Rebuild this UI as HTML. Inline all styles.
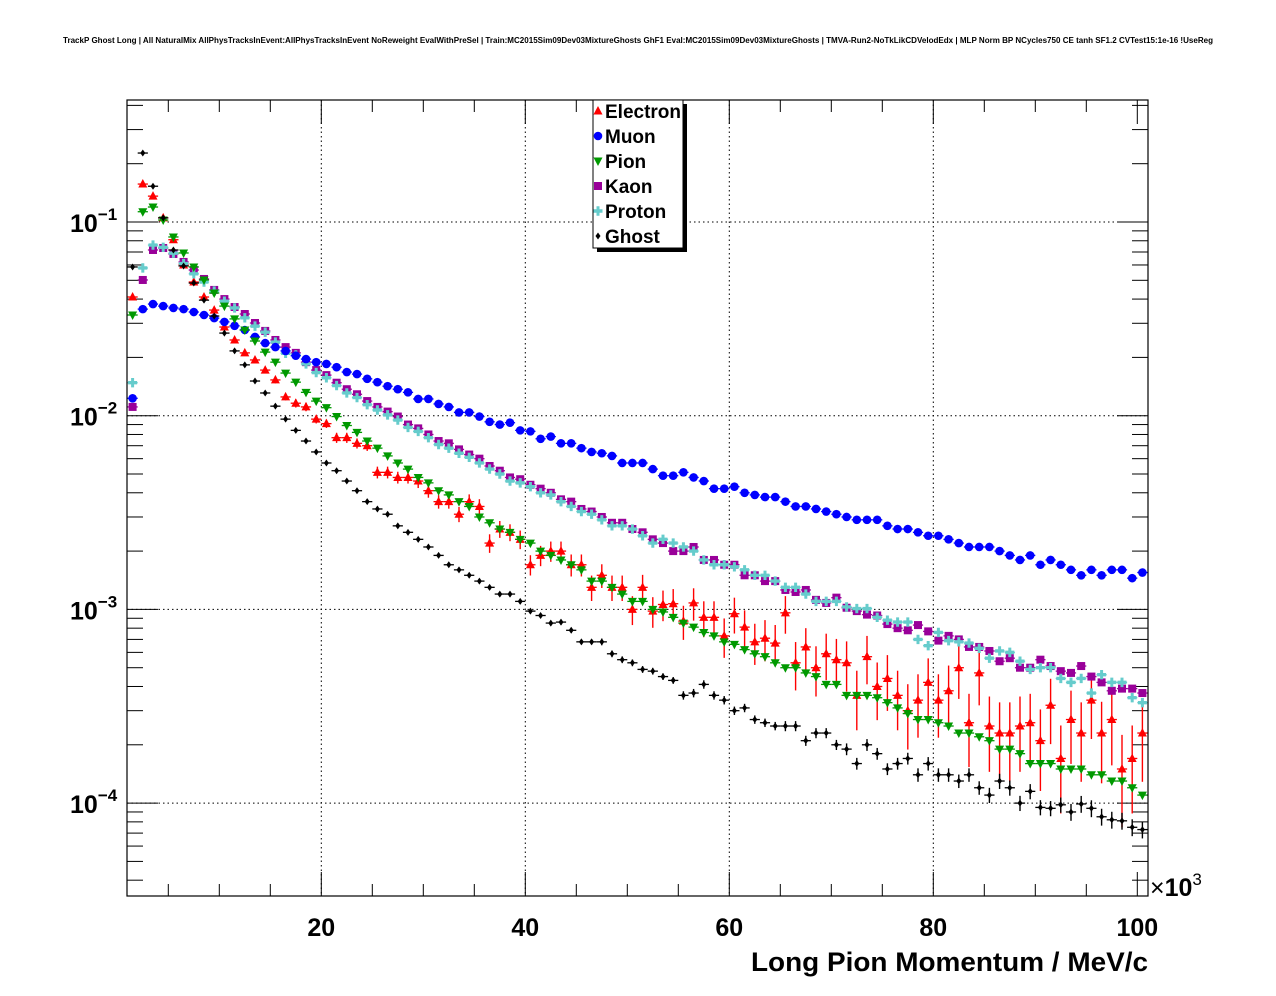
<!DOCTYPE html>
<html>
<head>
<meta charset="utf-8">
<style>
html,body{margin:0;padding:0;background:#fff;}
svg{display:block;font-family:"Liberation Sans",sans-serif;}
</style>
</head>
<body>
<svg id="chart" width="1276" height="996" viewBox="0 0 1276 996" xmlns="http://www.w3.org/2000/svg">
<rect x="0" y="0" width="1276" height="996" fill="#fff"/>
<text x="63" y="43" font-size="8" font-weight="bold" textLength="1150" lengthAdjust="spacingAndGlyphs">TrackP Ghost Long | All NaturalMix AllPhysTracksInEvent:AllPhysTracksInEvent NoReweight EvalWithPreSel | Train:MC2015Sim09Dev03MixtureGhosts GhF1 Eval:MC2015Sim09Dev03MixtureGhosts | TMVA-Run2-NoTkLikCDVelodEdx | MLP Norm BP NCycles750 CE tanh SF1.2 CVTest15:1e-16 !UseReg</text>
<g id="grid"></g>
<g id="axes"></g>
<defs><clipPath id="clip"><rect x="127" y="100" width="1021" height="796"/></clipPath></defs>
<g id="series" clip-path="url(#clip)"></g>
<rect x="127" y="100" width="1021" height="796" fill="none" stroke="#000" stroke-width="1.2"/>
<g id="legend"></g>
<text x="751" y="971" font-size="27" font-weight="bold" textLength="397" lengthAdjust="spacingAndGlyphs">Long Pion Momentum / MeV/c</text>
<text x="1150" y="896" font-size="25">×<tspan font-weight="bold">10</tspan><tspan font-size="17" dy="-11">3</tspan></text>
</svg>
<script>
const xTicks = [20, 40, 60, 80, 100];
const yDecades = [-1, -2, -3, -4];
const seriesNames = ["Electron", "Muon", "Pion", "Kaon", "Proton", "Ghost"];

const electron = [0.041,0.157,0.136,0.105,0.081,0.060,0.049,0.041,0.0351,0.0287,
0.0246,0.0211,0.0194,0.0172,0.0153,0.0125,0.0116,0.0111,0.0096,0.0091,
0.0077,0.0077,0.0072,0.0070,0.0051,0.0051,0.0048,0.0048,0.0046,0.0041,
0.0036,0.0036,0.0031,0.0036,0.0034,0.0022,0.0026,0.0025,0.0023,0.0017,
0.0019,0.0020,0.0020,0.0017,0.0017,0.0013,0.0015,0.0013,0.0013,0.0010,
0.0013,0.00098,0.00106,0.00107,0.00087,0.00108,0.00091,0.00091,0.00073,0.00095,
0.00081,0.00068,0.00071,0.00067,0.00096,0.00053,0.00064,0.00050,0.00059,0.00055,
0.00053,0.00036,0.00057,0.00040,0.00044,0.00036,0.00030,0.00034,0.00042,0.00034,
0.00038,0.00050,0.00026,0.00047,0.00025,0.00023,0.00023,0.00025,0.00026,0.00021,
0.00032,0.00017,0.00027,0.00023,0.00034,0.00023,0.00027,0.00015,0.00017,0.00023];
const electronErr = [0.03,0.02,0.02,0.02,0.02,0.03,0.03,0.03,0.03,0.03,
0.03,0.03,0.04,0.04,0.04,0.04,0.05,0.05,0.05,0.05,
0.06,0.06,0.06,0.06,0.07,0.07,0.07,0.07,0.08,0.08,
0.08,0.08,0.09,0.09,0.09,0.11,0.1,0.1,0.11,0.12,
0.12,0.12,0.12,0.13,0.13,0.15,0.14,0.15,0.15,0.17,
0.16,0.18,0.18,0.19,0.2,0.19,0.21,0.21,0.23,0.21,
0.22,0.24,0.24,0.24,0.22,0.28,0.25,0.29,0.27,0.28,
0.29,0.34,0.28,0.33,0.32,0.34,0.37,0.36,0.33,0.36,
0.35,0.31,0.41,0.32,0.42,0.44,0.44,0.42,0.41,0.45,
0.37,0.48,0.41,0.44,0.37,0.45,0.42,0.5,0.48,0.44];
const muon = [0.0123,0.0355,0.0377,0.0368,0.036,0.0355,0.0343,0.0331,0.0319,0.0305,
0.0291,0.0277,0.0255,0.0237,0.0226,0.0216,0.0204,0.0196,0.0189,0.0185,
0.0178,0.0168,0.0164,0.0155,0.0149,0.0142,0.0137,0.0132,0.0122,0.0122,
0.0115,0.0111,0.0104,0.0104,0.0099,0.0093,0.0090,0.0092,0.0084,0.0083,
0.0076,0.0078,0.0072,0.0072,0.0068,0.0065,0.0064,0.0062,0.0057,0.0057,
0.0057,0.0053,0.0049,0.0049,0.0051,0.0048,0.0046,0.0042,0.0042,0.0043,
0.0040,0.0039,0.0038,0.0038,0.0036,0.0034,0.0034,0.0033,0.0032,0.0031,
0.0030,0.0029,0.0029,0.0029,0.0027,0.0026,0.0026,0.0025,0.0024,0.0024,
0.0023,0.0022,0.0021,0.0021,0.0021,0.0020,0.0019,0.0018,0.0019,0.0017,
0.0018,0.0017,0.0016,0.0015,0.0016,0.0015,0.0016,0.0016,0.00145,0.00155];
const pion = [0.0331,0.113,0.1195,0.1024,0.0837,0.0692,0.0586,0.0502,0.0430,0.0368,
0.0316,0.0277,0.0243,0.0213,0.0189,0.0166,0.0149,0.0132,0.0119,0.0110,
0.0099,0.0089,0.0082,0.0074,0.0068,0.0062,0.0057,0.0053,0.0048,0.0045,
0.0041,0.0039,0.0036,0.0034,0.0030,0.0028,0.0026,0.0025,0.0023,0.0022,
0.0020,0.0019,0.0018,0.0017,0.0016,0.0014,0.0014,0.0013,0.0012,0.0011,
0.0011,0.0010,0.00097,0.00091,0.00085,0.00081,0.00076,0.00073,0.00068,0.00066,
0.00062,0.00059,0.00057,0.00053,0.00050,0.00050,0.00047,0.00045,0.00041,0.00041,
0.00036,0.00036,0.00036,0.00035,0.00033,0.00031,0.00029,0.00027,0.00027,0.00026,
0.00025,0.00023,0.00023,0.00022,0.00021,0.00019,0.00019,0.00018,0.00016,0.00016,
0.00016,0.00015,0.00015,0.00015,0.00014,0.00014,0.00013,0.00013,0.00012,0.00011];
const kaon = [0.0111,0.0502,0.0717,0.0734,0.0684,0.0622,0.0565,0.0508,0.0446,0.0400,
0.0364,0.0335,0.0301,0.0274,0.0246,0.0226,0.0211,0.0189,0.0172,0.0162,
0.0148,0.0137,0.0129,0.0119,0.0111,0.0105,0.0099,0.0090,0.0086,0.0080,
0.0074,0.0072,0.0067,0.0063,0.0060,0.0055,0.0052,0.0048,0.0047,0.0044,
0.0042,0.0040,0.0037,0.0036,0.0033,0.0032,0.0030,0.0028,0.0028,0.0026,
0.0025,0.0023,0.0022,0.0020,0.0020,0.0021,0.0018,0.0018,0.0017,0.0017,
0.0015,0.0015,0.0014,0.0014,0.00126,0.00123,0.00126,0.00112,0.00108,0.00115,
0.00102,0.00098,0.00094,0.00093,0.00084,0.00080,0.00078,0.00083,0.00077,0.00069,
0.00073,0.00070,0.00064,0.00064,0.00061,0.00054,0.00056,0.00050,0.00050,0.00055,
0.00051,0.00048,0.00047,0.00051,0.00045,0.00042,0.00038,0.00039,0.00039,0.00037];
const proton = [0.0148,0.0579,0.076,0.074,0.069,0.061,0.054,0.049,0.044,0.039,
0.036,0.032,0.029,0.027,0.024,0.021,0.0206,0.0185,0.0167,0.0157,
0.0143,0.0131,0.0124,0.0114,0.0107,0.0101,0.0095,0.0087,0.0083,0.0077,
0.0071,0.0068,0.0064,0.0061,0.0057,0.0053,0.0050,0.0046,0.0045,0.0043,
0.0040,0.0039,0.0036,0.0034,0.0032,0.0031,0.0029,0.0027,0.0027,0.0026,
0.0024,0.0022,0.0023,0.0022,0.0021,0.0020,0.0018,0.0017,0.0017,0.00166,
0.0016,0.0015,0.0015,0.0014,0.0013,0.0013,0.0012,0.0011,0.0011,0.0011,
0.00103,0.00101,0.00101,0.00091,0.00088,0.00086,0.00086,0.00070,0.00065,0.00076,
0.00069,0.00068,0.00067,0.00063,0.00056,0.00061,0.00060,0.00054,0.00049,0.00050,
0.00050,0.00044,0.00042,0.00044,0.00037,0.00046,0.00042,0.00042,0.00035,0.00033];
const ghost = [0.0586,0.227,0.153,0.105,0.0717,0.0593,0.0484,0.0395,0.0327,0.0267,
0.0216,0.0183,0.0151,0.0131,0.0112,0.0096,0.0084,0.0074,0.0065,0.0057,
0.0052,0.0046,0.0041,0.0036,0.0033,0.0031,0.0027,0.0025,0.0023,0.0021,
0.0019,0.0017,0.0016,0.0015,0.0014,0.0013,0.0012,0.0012,0.0011,0.00098,
0.00093,0.00085,0.00086,0.00078,0.00068,0.00068,0.00068,0.00059,0.00055,0.00053,
0.00049,0.00048,0.00045,0.00043,0.00036,0.00037,0.00041,0.00036,0.00034,0.00030,
0.00031,0.00027,0.00026,0.00025,0.00025,0.00025,0.00021,0.00023,0.00023,0.00020,
0.00019,0.00016,0.00020,0.00018,0.00015,0.00016,0.00017,0.00014,0.00016,0.00014,
0.00014,0.00013,0.00014,0.00012,0.00011,0.00013,0.00012,0.00010,0.000115,0.000095,
0.000094,0.000098,0.000090,0.000099,0.000094,0.000085,0.000082,0.000081,0.000075,0.000073];
const ghostErr = [0.01,0.01,0.01,0.01,0.01,0.01,0.01,0.01,0.01,0.01,
0.01,0.01,0.01,0.01,0.01,0.01,0.01,0.01,0.01,0.01,
0.02,0.02,0.02,0.02,0.02,0.02,0.02,0.02,0.02,0.02,
0.02,0.02,0.02,0.03,0.03,0.03,0.03,0.03,0.03,0.03,
0.03,0.03,0.03,0.03,0.03,0.03,0.04,0.04,0.04,0.04,
0.04,0.04,0.04,0.04,0.05,0.05,0.05,0.05,0.05,0.05,
0.05,0.05,0.05,0.05,0.06,0.06,0.06,0.06,0.06,0.06,
0.07,0.07,0.07,0.07,0.07,0.07,0.07,0.08,0.08,0.08,
0.08,0.08,0.08,0.08,0.09,0.09,0.09,0.09,0.09,0.09,
0.09,0.09,0.1,0.1,0.1,0.1,0.1,0.1,0.1,0.1];

const NS = "http://www.w3.org/2000/svg";
const X0 = 117.3, XS = 10.2, YD = 222, YS = 193.7;
function xPix(v){ return X0 + XS * v; }
function yPix(v){ return YD - (Math.log10(v) + 1) * YS; }
function mk(tag, attrs, parent){
  const e = document.createElementNS(NS, tag);
  for (const k in attrs) e.setAttribute(k, attrs[k]);
  parent.appendChild(e);
  return e;
}
const grid = document.getElementById('grid');
const axes = document.getElementById('axes');
const layer = document.getElementById('series');
const legend = document.getElementById('legend');

xTicks.forEach(t => {
  if (t >= 100) return;
  const l = mk('line', {x1:xPix(t), x2:xPix(t), y1:100, y2:896, stroke:'#000', 'stroke-width':1, 'stroke-dasharray':'1.5 3'}, grid);
  
  
});
yDecades.forEach(d => {
  const y = yPix(Math.pow(10, d));
  const l = mk('line', {x1:127, x2:1148, y1:y, y2:y, stroke:'#000', 'stroke-width':1, 'stroke-dasharray':'1.5 3'}, grid);
  
  
});

for (let t = 5; t <= 100; t += 5) {
  const x = xPix(t);
  const len = (t % 20 === 0) ? 24 : 12;
  const a = mk('line', {x1:x, x2:x, y1:896, y2:896 - len, stroke:'#000', 'stroke-width':1}, axes);
  
  
  const b = mk('line', {x1:x, x2:x, y1:100, y2:100 + len, stroke:'#000', 'stroke-width':1}, axes);
  
  
}
xTicks.forEach(t => {
  const tx = mk('text', {x:xPix(t), y:936, 'font-size':25, 'font-weight':'bold', 'text-anchor':'middle'}, axes);
  
  
  tx.textContent = String(t);
});

for (let d = -5; d <= 0; d++) {
  for (let m = 1; m <= 9; m++) {
    const v = m * Math.pow(10, d);
    const y = yPix(v);
    if (y < 100 || y > 896) continue;
    const len = (m === 1) ? 31 : 16;
    const a = mk('line', {x1:127, x2:127 + len, y1:y, y2:y, stroke:'#000', 'stroke-width':1}, axes);
    
    
    const b = mk('line', {x1:1148, x2:1148 - len, y1:y, y2:y, stroke:'#000', 'stroke-width':1}, axes);
    
    
  }
}
yDecades.forEach(d => {
  const y = yPix(Math.pow(10, d));
  const tx = mk('text', {x:70, y:y + 10, 'font-size':25, 'font-weight':'bold'}, axes);
  
  
  tx.textContent = '10';
  const sup = mk('tspan', {'font-size':17, dy:-12}, tx);
  sup.textContent = '\u2212' + String(-d);
});

function marker(shape, color, cx, cy, parent){
  let e;
  if (shape === 'tri-up') e = mk('polygon', {points:`${cx},${cy-5} ${cx-4.5},${cy+3.5} ${cx+4.5},${cy+3.5}`, fill:color}, parent);
  else if (shape === 'tri-down') e = mk('polygon', {points:`${cx},${cy+5} ${cx-4.5},${cy-3.5} ${cx+4.5},${cy-3.5}`, fill:color}, parent);
  else if (shape === 'circle') e = mk('circle', {cx:cx, cy:cy, r:4.3, fill:color}, parent);
  else if (shape === 'square') e = mk('rect', {x:cx-4, y:cy-4, width:8, height:8, fill:color}, parent);
  else if (shape === 'cross') e = mk('path', {d:`M${cx-4.5},${cy-1.7}h3v-3h3v3h3v3.4h-3v3h-3v-3h-3z`, fill:color}, parent);
  else e = mk('polygon', {points:`${cx},${cy-3.5} ${cx-2.5},${cy} ${cx},${cy+3.5} ${cx+2.5},${cy}`, fill:color}, parent);
  return e;
}
const seriesDefs = [
  {name:'electron', values:electron, err:electronErr, color:'#ff0000', shape:'tri-up'},
  {name:'kaon', values:kaon, err:null, color:'#990099', shape:'square'},
  {name:'proton', values:proton, err:null, color:'#66cccc', shape:'cross'},
  {name:'muon', values:muon, err:null, color:'#0000ff', shape:'circle'},
  {name:'pion', values:pion, err:null, color:'#009900', shape:'tri-down'},
  {name:'ghost', values:ghost, err:ghostErr, color:'#000000', shape:'diamond'}
];
seriesDefs.forEach(s => {
  const g = mk('g', {}, layer);
  
  
  s.values.forEach((v, k) => {
    const xc = k + 1.5;
    const cx = xPix(xc), cy = yPix(v);
    const h = mk('line', {x1:xPix(xc - 0.5), x2:xPix(xc + 0.5), y1:cy, y2:cy, stroke:s.color, 'stroke-width':1.3}, g);
    
    
    if (s.err) {
      const r = s.err[k];
      const ve = mk('line', {x1:cx, x2:cx, y1:yPix(v * (1 + r)), y2:yPix(v * (1 - r)), stroke:s.color, 'stroke-width':1.4}, g);
      
      
    }
    const m = marker(s.shape, s.color, cx, cy, g);
    
    
  });
});

const sh = mk('rect', {x:597, y:104, width:90, height:148, fill:'#000'}, legend);


const box = mk('rect', {x:593, y:100, width:90, height:148, fill:'#fff', stroke:'#000', 'stroke-width':1}, legend);


const legColors = ['#ff0000','#0000ff','#009900','#990099','#66cccc','#000000'];
const legShapes = ['tri-up','circle','tri-down','square','cross','diamond'];
seriesNames.forEach((n, i) => {
  const y = 111 + i * 25;
  const g = mk('g', {}, legend);
  
  
  const m = marker(legShapes[i], legColors[i], 598, y, g);
  
  
  const t = mk('text', {x:605, y:y + 7, 'font-size':19, 'font-weight':'bold'}, g);
  
  
  t.textContent = n;
});
</script>
</body>
</html>
